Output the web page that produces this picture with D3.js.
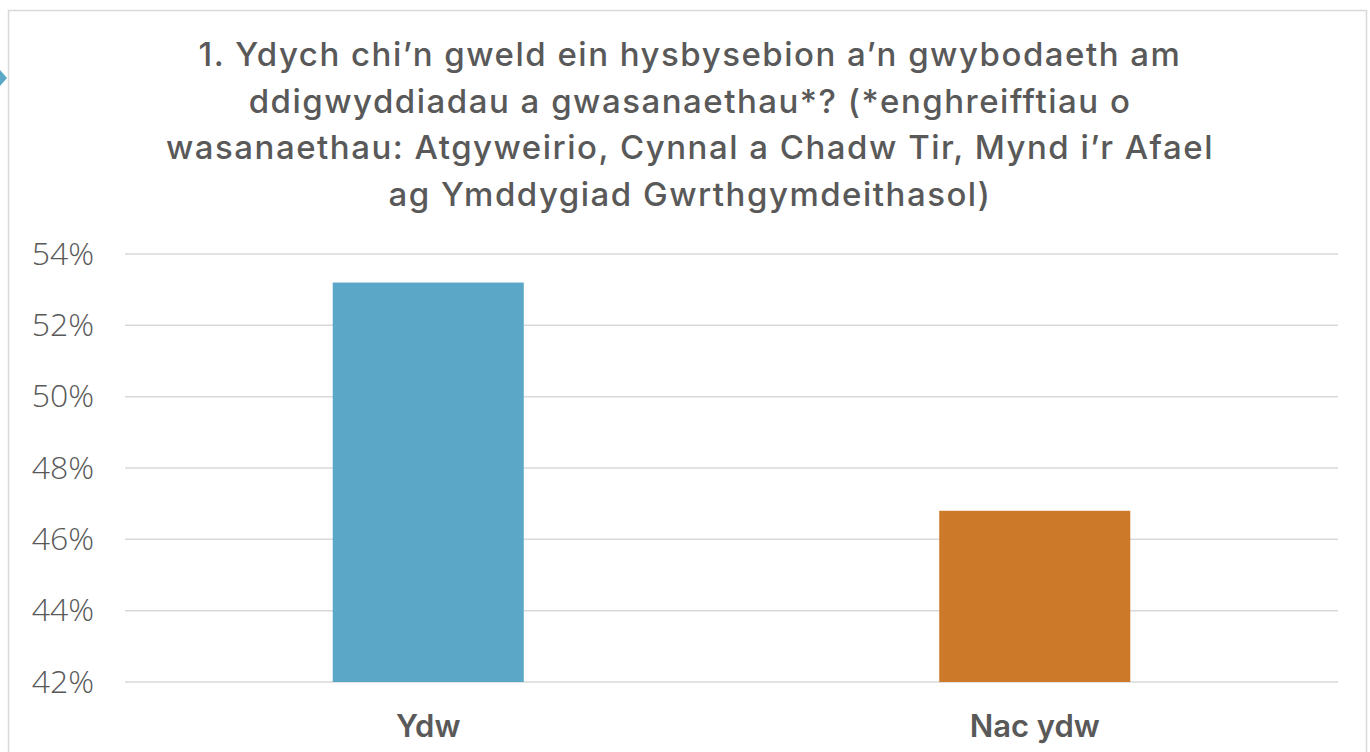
<!DOCTYPE html>
<html>
<head>
<meta charset="utf-8">
<script src="https://cdn.jsdelivr.net/npm/d3@7"></script>
<style>
  html, body { margin: 0; padding: 0; background: #fff; }
  svg { display: block; }
</style>
</head>
<body>
<div id="chart"></div>
<script>
'use strict';

const categories = ["Ydw", "Nac ydw"];
const values = [53.2, 46.8];
const barColors = ["#5BA7C7", "#CD792A"];
const yTicks = [42, 44, 46, 48, 50, 52, 54];
const titleLines = [
    "1. Ydych chi\u2019n gweld ein hysbysebion a\u2019n gwybodaeth am",
    "ddigwyddiadau a gwasanaethau*? (*enghreifftiau o",
    "wasanaethau: Atgyweirio, Cynnal a Chadw Tir, Mynd i\u2019r Afael",
    "ag Ymddygiad Gwrthgymdeithasol)"
];

const width = 1370;
const height = 752;
const margin = { top: 254, right: 32, bottom: 70, left: 125 };
const textColor = "#595959";
const gridColor = "#d9d9d9";

const svg = d3.select("#chart")
    .append("svg")
    .attr("width", width)
    .attr("height", height)
    .attr("viewBox", [0, 0, width, height]);

// chart frame
svg.append("rect")
    .attr("x", 8.5)
    .attr("y", 10.5)
    .attr("width", 1358)
    .attr("height", 760)
    .attr("fill", "#fff")
    .attr("stroke", gridColor)
    .attr("stroke-width", 1.5);

// little marker poking in from the left edge
svg.append("path")
    .attr("d", "M-6,78 L0,70 L7,78 L0,86 Z")
    .attr("fill", "#5BA7C7");

const xScale = d3.scaleBand()
    .domain(categories)
    .range([margin.left, width - margin.right])
    .paddingInner(0.685)
    .paddingOuter(0.3425);

const yScale = d3.scaleLinear()
    .domain([42, 54])
    .range([682, margin.top]);

// title
svg.append("g")
    .selectAll("text")
    .data(titleLines)
    .join("text")
        .attr("x", 690)
        .attr("y", (d, i) => 66 + i * 46.5)
        .attr("text-anchor", "middle")
        .style("font-family", "Inter, 'Noto Sans', sans-serif")
        .style("font-size", "33px")
        .style("font-weight", 500)
        .style("letter-spacing", "1.5px")
        .style("fill", textColor)
        .text(d => d);

// grid
svg.append("g")
    .selectAll("line")
    .data(yTicks)
    .join("line")
        .attr("x1", margin.left)
        .attr("x2", width - margin.right)
        .attr("y1", d => yScale(d))
        .attr("y2", d => yScale(d))
        .attr("stroke", gridColor)
        .attr("stroke-width", 1.5);

// y axis labels
svg.append("g")
    .attr("transform", `translate(${margin.left - 31}, 0)`)
    .call(d3.axisLeft(yScale).tickValues(yTicks).tickSize(0).tickPadding(0).tickFormat(d => d + "%"))
    .call(g => g.select(".domain").remove())
    .call(g => g.selectAll("text")
        .style("font-family", "'Open Sans', 'Liberation Sans', sans-serif")
        .style("font-size", "32px")
        .style("font-weight", 300)
        .style("fill", textColor));

// bars
svg.append("g")
    .selectAll("rect")
    .data(values)
    .join("rect")
        .attr("x", (d, i) => xScale(categories[i]))
        .attr("y", d => yScale(d))
        .attr("width", xScale.bandwidth())
        .attr("height", d => yScale(42) - yScale(d))
        .attr("fill", (d, i) => barColors[i]);

// x axis labels
svg.append("g")
    .attr("transform", `translate(0, ${yScale(42)})`)
    .call(d3.axisBottom(xScale).tickSize(0).tickPadding(0))
    .call(g => g.select(".domain").remove())
    .call(g => g.selectAll("text")
        .attr("dy", null)
        .attr("y", 55)
        .style("font-family", "Inter, 'Noto Sans', sans-serif")
        .style("font-size", "31px")
        .style("font-weight", 600)
        .style("fill", textColor));
</script>
</body>
</html>
